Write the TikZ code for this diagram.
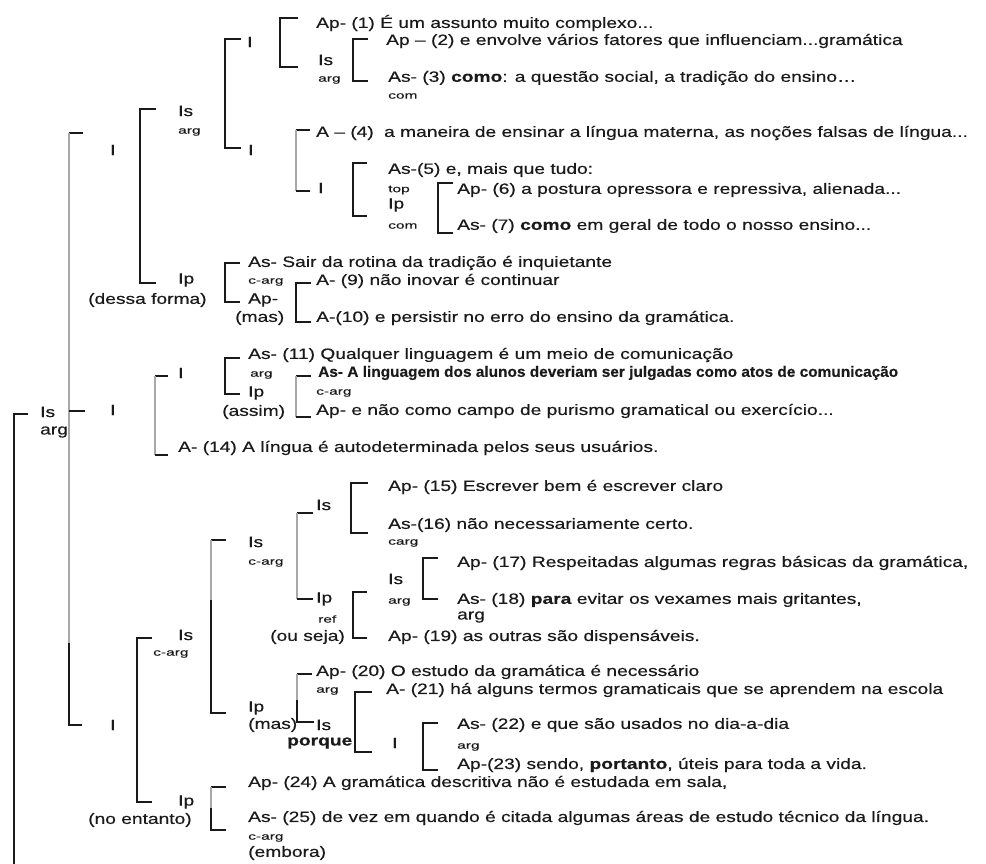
\documentclass[tikz,border=0pt]{standalone}
\usepackage{fontspec}
\usepackage{graphicx}
\setmainfont{Liberation Sans}[FakeStretch=1.28,FakeBold=0.4]
\newfontfamily\smallf{Liberation Sans}[FakeStretch=1.55,FakeBold=0.3]
\definecolor{ink}{HTML}{1A1A1A}
\definecolor{lgray}{HTML}{A8A8A8}
\newcommand\mybk[4]{\draw[brk] (#4,#2) -- (#1,#2) -- (#1,#3) -- (#4,#3);}
\newcommand\mygbk[4]{\draw[brk] (#4,#2) -- (#1,#2); \draw[gbrk] (#1,#2) -- (#1,#3); \draw[brk] (#1,#3) -- (#4,#3);}
\tikzset{
  txt/.style={anchor=west, inner sep=0pt, font=\fontsize{15}{16}\selectfont, text=ink},
  sm/.style={anchor=west, inner sep=0pt, font=\smallf\fontsize{10}{11}\selectfont, text=ink},
  brk/.style={line width=1.8pt, draw=ink},
  gbrk/.style={line width=1.8pt, draw=lgray},
}
\begin{document}
\begin{tikzpicture}[x=1pt,y=-1pt]
\useasboundingbox (0,0) rectangle (986,864);
\fill[white] (0,0) rectangle (986,864);

% ---- main text lines
\node[txt] (t1) at (316,23) {Ap- (1) É um assunto muito complexo...};
\node[txt] (t2) at (386,41) {Ap – (2) e envolve vários fatores que influenciam...gramática};
\node[txt] (t3) at (388,78) {As- (3) \textbf{como}: a questão social, a tradição do ensino…};
\node[sm] (c3) at (388,96) {com};
\node[txt] (t4) at (316,133) {A – (4)\hspace{5pt} a maneira de ensinar a língua materna, as noções falsas de língua...};
\node[txt] (t5) at (388,170) {As-(5) e, mais que tudo:};
\node[txt] (t6) at (457,190) {Ap- (6) a postura opressora e repressiva, alienada...};
\node[txt] (t7) at (457,226) {As- (7) \textbf{como} em geral de todo o nosso ensino...};
\node[txt] (t8) at (248,263) {As- Sair da rotina da tradição é inquietante};
\node[txt] (t9) at (316,281) {A- (9) não inovar é continuar};
\node[txt] (t10) at (316,318) {A-(10) e persistir no erro do ensino da gramática.};
\node[txt] (t11) at (248,355) {As- (11) Qualquer linguagem é um meio de comunicação};
\node[txt] (t12) at (318,373) {\resizebox{580pt}{\height}{\bfseries As- A linguagem dos alunos deveriam ser julgadas como atos de comunicação}};
\node[txt] (t13) at (316,411) {Ap- e não como campo de purismo gramatical ou exercício...};
\node[txt] (t14) at (178,448) {A- (14) A língua é autodeterminada pelos seus usuários.};
\node[txt] (t15) at (388,487) {Ap- (15) Escrever bem é escrever claro};
\node[txt] (t16) at (388,525) {As-(16) não necessariamente certo.};
\node[sm] (c16) at (388,543) {carg};
\node[txt] (t17) at (457,563) {Ap- (17) Respeitadas algumas regras básicas da gramática,};
\node[txt] (t18) at (457,600) {As- (18) \textbf{para} evitar os vexames mais gritantes,};
\node[txt] (a18) at (457,617) {arg};
\node[txt] (t19) at (388,637) {Ap- (19) as outras são dispensáveis.};
\node[txt] (t20) at (316,672) {Ap- (20) O estudo da gramática é necessário};
\node[sm] (c20) at (316,691) {arg};
\node[txt] (t21) at (386,690) {A- (21) há alguns termos gramaticais que se aprendem na escola};
\node[txt] (t22) at (457,725) {As- (22) e que são usados no dia-a-dia};
\node[sm] (c22) at (457,747) {arg};
\node[txt] (t23) at (457,765) {Ap-(23) sendo, \textbf{portanto}, úteis para toda a vida.};
\node[txt] (t24) at (248,783) {Ap- (24) A gramática descritiva não é estudada em sala,};
\node[txt] (t25) at (248,818) {As- (25) de vez em quando é citada algumas áreas de estudo técnico da língua.};
\node[sm] (c25) at (248,838) {c-arg};
\node[txt] (e25) at (248,853) {(embora)};

% ---- labels
\node[txt] (n1) at (247,42) {I};
\node[txt] (n2) at (318,60) {Is};
\node[sm] (n2a) at (318,80) {arg};
\node[txt] (n3) at (178,111) {Is};
\node[sm] (n3a) at (178,132) {arg};
\node[txt] (n4) at (110,150) {I};
\node[txt] (n5) at (248,150) {I};
\node[txt] (n6) at (318,188) {I};
\node[sm] (n7a) at (388,190) {top};
\node[txt] (n7) at (388,205) {Ip};
\node[sm] (n7b) at (388,226) {com};
\node[txt] (n8) at (178,280) {Ip};
\node[txt] (n8a) at (88,300) {(dessa forma)};
\node[sm] (n9a) at (248,282) {c-arg};
\node[txt] (n9) at (248,300) {Ap-};
\node[txt] (n9b) at (235,318) {(mas)};
\node[txt] (n10) at (178,373) {I};
\node[sm] (n11a) at (250,375) {arg};
\node[txt] (n11) at (248,393) {Ip};
\node[txt] (n11b) at (222,412) {(assim)};
\node[sm] (n11c) at (316,393) {c-arg};
\node[txt] (root) at (40,412) {Is};
\node[txt] (roota) at (40,432) {arg};
\node[txt] (n12) at (110,410) {I};
\node[txt] (n13) at (316,505) {Is};
\node[txt] (n14) at (248,542) {Is};
\node[sm] (n14a) at (248,563) {c-arg};
\node[txt] (n15) at (388,579) {Is};
\node[sm] (n15a) at (388,602) {arg};
\node[txt] (n16) at (316,599) {Ip};
\node[sm] (n16a) at (318,619) {ref};
\node[txt] (n16b) at (270,637) {(ou seja)};
\node[txt] (n17) at (178,635) {Is};
\node[sm] (n17a) at (153,654) {c-arg};
\node[txt] (n18) at (248,708) {Ip};
\node[txt] (n18a) at (248,725) {(mas)};
\node[txt] (n19) at (316,725) {Is};
\node[txt] (n19a) at (287,743) {\textbf{porque}};
\node[txt] (n20) at (110,725) {I};
\node[txt] (n21) at (392,743) {I};
\node[txt] (n22) at (178,802) {Ip};
\node[txt] (n22a) at (88,820) {(no entanto)};

% ---- brackets
\mybk{280}{18}{67}{298}
\mybk{353}{39}{81}{368}
\mybk{225}{39}{148}{241}
\mybk{140}{109}{283}{156}
\draw[brk] (83,133) -- (69,133);
\draw[gbrk] (69,133) -- (69,643);
\draw[brk] (69,643) -- (69,725) -- (82,725);
\draw[brk] (69,411) -- (85,411);
\draw[brk] (28,414) -- (14,414) -- (14,866);
\mygbk{296}{130}{191}{310}
\mybk{353}{163}{216}{367}
\mybk{438}{183}{233}{453}
\mybk{225}{263}{302}{240}
\mybk{296}{283}{322}{311}
\mybk{225}{358}{394}{240}
\mygbk{296}{376}{417}{311}
\mygbk{155}{376}{455}{168}
\mybk{351}{483}{533}{368}
\mygbk{297}{513}{599}{313}
\draw[brk] (226,540) -- (211,540);
\draw[gbrk] (211,540) -- (211,600);
\draw[brk] (211,600) -- (211,713) -- (226,713);
\mybk{423}{558}{599}{438}
\mybk{353}{592}{638}{367}
\mybk{137}{638}{802}{152}
\draw[brk] (312,674) -- (297,674);
\draw[gbrk] (297,674) -- (297,700);
\draw[brk] (297,700) -- (297,722) -- (314,722);
\mybk{355}{692}{752}{372}
\mybk{423}{723}{770}{438}
\draw[brk] (226,787) -- (211,787);
\draw[gbrk] (211,787) -- (211,808);
\draw[brk] (211,808) -- (211,830) -- (226,830);
\end{tikzpicture}
\end{document}
